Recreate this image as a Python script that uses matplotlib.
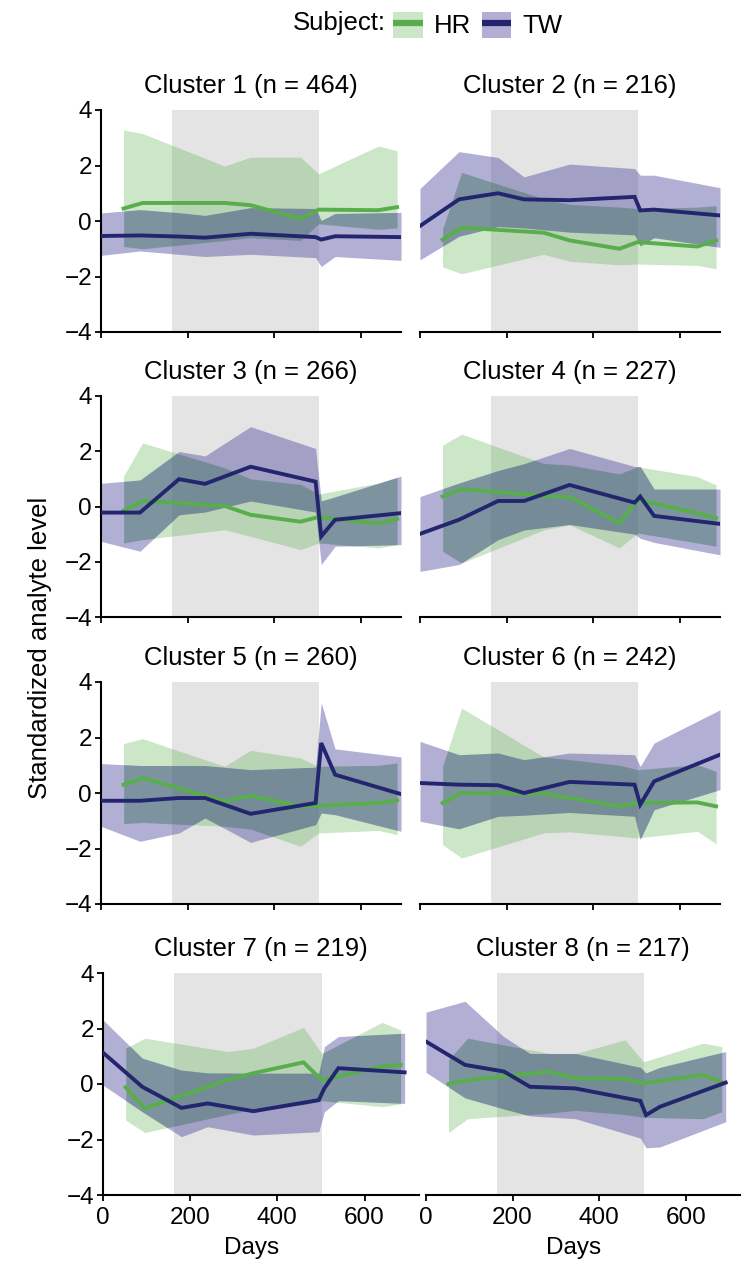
import numpy as np
import matplotlib
matplotlib.use("Agg")
import matplotlib.pyplot as plt
from matplotlib.patches import Patch
from matplotlib.lines import Line2D

plt.rcParams['font.family'] = ['Liberation Sans', 'DejaVu Sans']

# sampling days of the two subjects
days_hr = [52, 96, 285, 345, 460, 502, 640, 683]
days_tw = [0, 90, 180, 240, 345, 495, 508, 540, 692]

titles = ["Cluster 1 (n = 464)", "Cluster 2 (n = 216)", "Cluster 3 (n = 266)", "Cluster 4 (n = 227)",
          "Cluster 5 (n = 260)", "Cluster 6 (n = 242)", "Cluster 7 (n = 219)", "Cluster 8 (n = 217)"]

# TW: mean, upper and lower band per cluster
tw_mean = [
    [-0.54, -0.52, -0.56, -0.6, -0.46, -0.58, -0.67, -0.55, -0.58],
    [-0.18, 0.78, 1.0, 0.78, 0.75, 0.87, 0.38, 0.41, 0.2],
    [-0.22, -0.22, 0.99, 0.82, 1.44, 0.9, -1.08, -0.48, -0.24],
    [-0.99, -0.48, 0.2, 0.2, 0.78, 0.14, 0.36, -0.34, -0.63],
    [-0.28, -0.28, -0.18, -0.18, -0.75, -0.36, 1.8, 0.66, -0.04],
    [0.36, 0.3, 0.28, 0.0, 0.4, 0.3, -0.42, 0.42, 1.38],
    [1.13, -0.1, -0.86, -0.7, -0.98, -0.58, -0.15, 0.57, 0.42],
    [1.53, 0.69, 0.45, -0.1, -0.16, -0.61, -1.12, -0.82, 0.05],
]
tw_hi = [
    [0.29, 0.41, 0.3, 0.2, 0.48, 0.45, 0.02, 0.27, 0.31],
    [1.17, 2.5, 2.29, 1.59, 2.05, 1.89, 1.65, 1.65, 1.2],
    [0.84, 0.96, 1.99, 1.83, 2.89, 2.1, 0.2, 0.35, 1.1],
    [0.36, 0.85, 1.3, 1.55, 2.1, 1.45, 1.45, 0.63, 0.63],
    [1.06, 0.99, 0.99, 0.99, 0.84, 0.93, 3.25, 1.59, 1.3],
    [1.86, 1.38, 1.44, 1.2, 1.44, 1.38, 0.96, 1.8, 3.0],
    [2.31, 0.93, 0.5, 0.4, 0.39, 0.39, 1.35, 1.71, 1.83],
    [2.59, 2.98, 1.7, 1.1, 1.1, 0.6, 0.4, 0.6, 1.17],
]
tw_lo = [
    [-1.24, -1.08, -1.2, -1.28, -1.2, -1.32, -1.64, -1.28, -1.42],
    [-1.4, -0.55, -0.2, -0.25, -0.4, -0.5, -0.9, -0.6, -0.95],
    [-1.26, -1.62, -0.3, -0.2, 0.2, -0.2, -2.1, -1.44, -1.38],
    [-2.35, -2.1, -1.2, -0.85, -0.65, -1.0, -1.15, -1.3, -1.75],
    [-1.2, -1.74, -1.44, -0.9, -1.78, -1.14, -0.72, -0.78, -1.38],
    [-1.02, -1.29, -0.84, -0.8, -0.7, -0.84, -1.68, -0.6, 0.12],
    [-0.04, -1.0, -1.9, -1.54, -1.84, -1.72, -1.0, -0.6, -0.7],
    [0.42, -0.5, -0.9, -1.15, -1.25, -1.95, -2.3, -2.27, -1.36],
]

# HR: mean, upper and lower band per cluster
hr_mean = [
    [0.45, 0.65, 0.65, 0.57, 0.08, 0.41, 0.39, 0.5],
    [-0.67, -0.24, -0.42, -0.7, -1.0, -0.76, -0.92, -0.7],
    [-0.15, 0.2, 0.02, -0.3, -0.55, -0.38, -0.62, -0.45],
    [0.36, 0.63, 0.39, 0.34, -0.6, 0.24, -0.24, -0.42],
    [0.3, 0.54, -0.3, -0.1, -0.48, -0.46, -0.36, -0.26],
    [-0.36, 0.0, -0.02, -0.18, -0.48, -0.36, -0.34, -0.48],
    [-0.12, -0.88, 0.14, 0.39, 0.78, 0.14, 0.63, 0.69],
    [0.0, 0.14, 0.45, 0.2, 0.18, 0.02, 0.33, 0.06],
]
hr_hi = [
    [3.28, 3.15, 1.98, 2.3, 2.3, 1.7, 2.7, 2.53],
    [-0.3, 1.75, 0.8, 0.6, 0.5, 0.45, 0.5, 0.55],
    [1.1, 2.3, 1.4, 1.0, 0.8, 0.45, 0.85, 1.05],
    [2.22, 2.62, 1.56, 1.5, 1.18, 1.44, 1.08, 0.78],
    [1.78, 1.96, 0.96, 1.54, 1.26, 0.96, 1.0, 1.08],
    [0.96, 3.06, 1.3, 1.2, 1.0, 0.84, 1.02, 0.78],
    [1.29, 1.65, 1.17, 1.29, 2.04, 1.1, 2.22, 1.95],
    [0.87, 1.65, 1.1, 1.1, 1.59, 0.8, 1.47, 1.35],
]
hr_lo = [
    [-0.92, -1.0, -0.7, -0.6, -0.7, -0.1, -0.3, -0.25],
    [-1.65, -1.9, -1.2, -1.45, -1.58, -1.55, -1.6, -1.72],
    [-1.32, -1.2, -0.84, -1.08, -1.56, -1.32, -1.5, -1.38],
    [-1.62, -2.05, -0.85, -0.66, -1.5, -0.96, -1.32, -1.44],
    [-1.1, -1.06, -1.2, -1.3, -1.92, -1.44, -1.35, -1.5],
    [-1.86, -2.34, -1.44, -1.4, -1.56, -1.62, -1.38, -1.83],
    [-1.3, -1.75, -1.1, -0.9, -0.75, -0.6, -0.82, -0.72],
    [-1.75, -1.25, -1.05, -0.95, -1.1, -1.2, -1.25, -1.0],
]

shade = (163, 503)

green = "#58ae4b"
navy = "#23266e"
blue_fill = "#544fa0"
overlap_col = "#286458"

W, H = 744, 1267
fig = plt.figure(figsize=(W / 100, H / 100), dpi=100)

# panel rows in pixels (top, bottom)
rows_y = [(110, 332), (396, 617), (682, 904), (973, 1195)]

fs = 18.5
for i in range(8):
    r, c = divmod(i, 2)
    y0, y1 = rows_y[r]
    if r < 3:
        x0, x1 = (101, 401) if c == 0 else (420, 720)
        xmax = 692
    else:
        x0, x1 = (103, 419) if c == 0 else (426, 740)
        xmax = 725
    ax = fig.add_axes([x0 / W, 1 - y1 / H, (x1 - x0) / W, (y1 - y0) / H])

    ax.axvspan(shade[0], shade[1], color="#e4e4e4", lw=0, zorder=0)
    ax.fill_between(days_hr, hr_lo[i], hr_hi[i], color=green, alpha=0.3, lw=0, zorder=1)
    ax.fill_between(days_tw, tw_lo[i], tw_hi[i], color=blue_fill, alpha=0.45, lw=0, zorder=2)

    # darker tone where the two ribbons overlap
    t = np.linspace(0, 692, 1400)
    a_lo = np.interp(t, days_hr, hr_lo[i], left=np.nan, right=np.nan)
    a_hi = np.interp(t, days_hr, hr_hi[i], left=np.nan, right=np.nan)
    b_lo = np.interp(t, days_tw, tw_lo[i], left=np.nan, right=np.nan)
    b_hi = np.interp(t, days_tw, tw_hi[i], left=np.nan, right=np.nan)
    lo = np.maximum(a_lo, b_lo)
    hi = np.minimum(a_hi, b_hi)
    ok = np.nan_to_num(hi - lo, nan=-1) > 0
    ax.fill_between(t, lo, hi, where=ok, color=overlap_col, alpha=0.22, lw=0, zorder=3)

    ax.plot(days_hr, hr_mean[i], color=green, lw=2.8, zorder=4, solid_joinstyle="miter")
    ax.plot(days_tw, tw_mean[i], color=navy, lw=2.8, zorder=5, solid_joinstyle="miter")

    ax.set_xlim(0, xmax)
    ax.set_ylim(-4, 4)
    ax.set_xticks([0, 200, 400, 600])
    ax.set_yticks([-4, -2, 0, 2, 4])
    ax.set_title(titles[i], fontsize=fs, pad=12.5)
    for s in ["top", "right"]:
        ax.spines[s].set_visible(False)
    ax.spines["bottom"].set_linewidth(1.5)
    ax.spines["left"].set_linewidth(1.5)
    ax.tick_params(length=4.5, width=1.3, labelsize=17.5, pad=2)
    ax.tick_params(axis="x", pad=4)
    if c == 1:
        ax.spines["left"].set_visible(False)
        ax.tick_params(axis="y", left=False, labelleft=False)
    if r < 3:
        ax.tick_params(axis="x", labelbottom=False)
    else:
        ax.set_xlabel("Days", fontsize=17.5)
        ax.xaxis.set_label_coords(0.47, -0.19)
    ax.patch.set_alpha(0)

fig.text(40 / W, 1 - 648 / H, "Standardized analyte level", rotation=90,
         ha="center", va="center", fontsize=fs)

# legend row at the top
fig.text(386 / W, 1 - 23 / H, "Subject:", ha="right", va="center", fontsize=fs)
h_hr = (Patch(facecolor=green, alpha=0.3, lw=0),
        Line2D([], [], color=green, lw=4.5, solid_capstyle="butt"))
h_tw = (Patch(facecolor=blue_fill, alpha=0.45, lw=0),
        Line2D([], [], color=navy, lw=4.5, solid_capstyle="butt"))
fig.legend([h_hr, h_tw], ["HR", "TW"], loc="center left", bbox_to_anchor=(393 / W, 1 - 25 / H),
           ncol=2, frameon=False, fontsize=fs, handlelength=1.15, handleheight=1.2,
           handletextpad=0.45, columnspacing=0.4, borderpad=0, borderaxespad=0)

fig.savefig("out.png", dpi=100)
